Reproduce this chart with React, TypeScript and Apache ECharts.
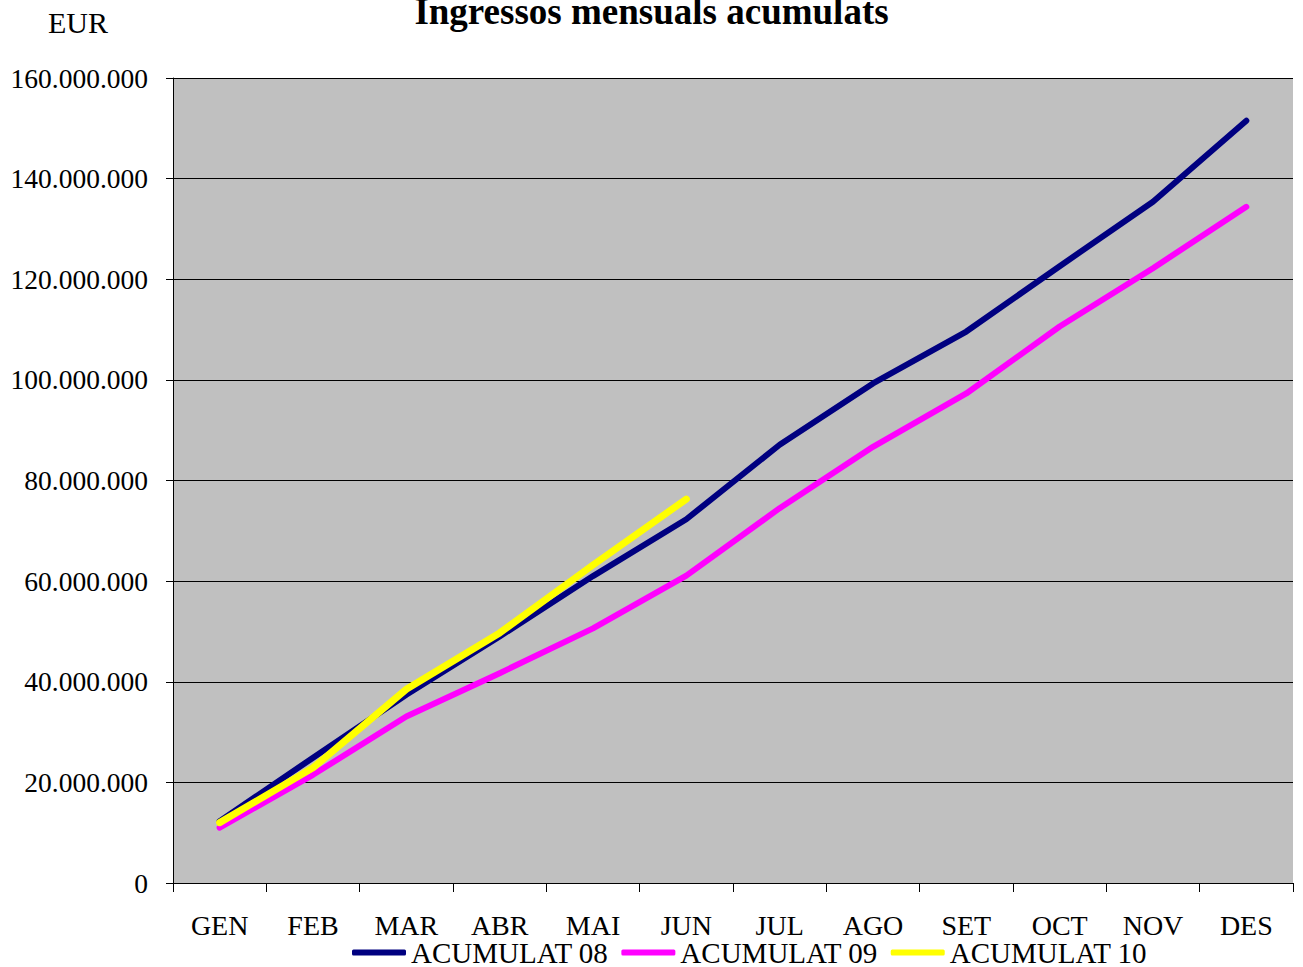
import React, { useEffect, useRef } from "react";
import * as echarts from "echarts";

const categories = ["GEN", "FEB", "MAR", "ABR", "MAI", "JUN", "JUL", "AGO", "SET", "OCT", "NOV", "DES"];
const acumulat08 = [12300000, 24900000, 37400000, 49000000, 61000000, 72300000, 87100000, 99300000, 109600000, 122600000, 135400000, 151500000];
const acumulat09 = [11000000, 21500000, 33100000, 41700000, 50600000, 61100000, 74500000, 86700000, 97300000, 110600000, 122200000, 134400000];
const acumulat10 = [12000000, 22900000, 38500000, 49700000, 63200000, 76300000];
const seriesNames = ["ACUMULAT 08", "ACUMULAT 09", "ACUMULAT 10"];
const seriesColors = ["#000080", "#FF00FF", "#FFFF00"];

const FONT = "'Liberation Serif', 'DejaVu Serif', serif";

function fmt(v: number): string {
  return String(Math.round(v)).replace(/\B(?=(\d{3})+(?!\d))/g, ".");
}

export default function App() {
  const ref = useRef<HTMLDivElement>(null);
  useEffect(() => {
    if (!ref.current) return;
    const chart = echarts.init(ref.current, undefined, { renderer: "svg" });
    const data = [acumulat08, acumulat09, acumulat10];
    chart.setOption({
      animation: false,
      backgroundColor: "#ffffff",
      title: {
        text: "Ingressos mensuals acumulats",
        left: "center",
        top: -7,
        padding: 0,
        textStyle: { fontFamily: FONT, fontSize: 37, fontWeight: "bold", color: "#000" },
      },
      graphic: [
        {
          type: "text",
          left: 48,
          top: 7,
          style: { text: "EUR", font: `30px ${FONT}`, fill: "#000" },
        },
      ],
      legend: {
        data: seriesNames,
        left: 348,
        top: 936,
        padding: [2, 4, 2, 4],
        backgroundColor: "#ffffff",
        itemGap: 13,
        itemWidth: 54,
        itemHeight: 6,
        icon: "roundRect",
        textStyle: { fontFamily: FONT, fontSize: 29, color: "#000" },
      },
      grid: { left: 173, right: 10, top: 78, bottom: 84, containLabel: false, show: true, backgroundColor: "#C0C0C0", borderWidth: 0 },
      xAxis: {
        type: "category",
        data: categories,
        boundaryGap: true,
        axisLine: { lineStyle: { color: "#000", width: 1 } },
        axisTick: { show: true, length: 9, lineStyle: { color: "#000" }, alignWithLabel: false },
        axisLabel: { fontFamily: FONT, fontSize: 28, color: "#000", margin: 28, interval: 0 },
        splitLine: { show: false },
      },
      yAxis: {
        type: "value",
        min: 0,
        max: 160000000,
        interval: 20000000,
        axisLine: { show: true, lineStyle: { color: "#000", width: 1 } },
        axisTick: { show: true, length: 7, lineStyle: { color: "#000" } },
        axisLabel: { fontFamily: FONT, fontSize: 27.5, color: "#000", margin: 25, formatter: (v: number) => fmt(v) },
        splitLine: { show: true, lineStyle: { color: "#000", width: 1 } },
      },
      series: data.map((d, i) => ({
        name: seriesNames[i],
        type: "line",
        data: d,
        symbol: "none",
        showSymbol: false,
        lineStyle: { color: seriesColors[i], width: i === 2 ? 7 : 6, cap: "round", join: "round" },
        itemStyle: { color: seriesColors[i] },
        z: 3 + i,
      })),
    });
    return () => chart.dispose();
  }, []);
  return <div ref={ref} style={{ position: "fixed", left: 0, top: 0, width: 1303, height: 967 }} />;
}
